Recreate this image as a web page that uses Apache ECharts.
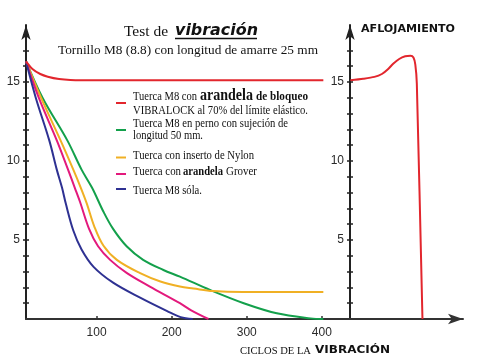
<!DOCTYPE html>
<html><head><meta charset="utf-8">
<script src="https://cdn.jsdelivr.net/npm/echarts@6/dist/echarts.min.js"></script>
<style>html,body{margin:0;padding:0;background:#fff}#c{width:481px;height:361px}</style>
</head><body><div id="c"></div>
<script>
// ---- data ----
const cycleTicks = [100, 200, 300, 400];
const loadLabels = [5, 10, 15];
const loadTicks = [1, 2, 3, 4, 5, 6, 7, 8, 9, 10, 11, 12, 13, 14, 15, 16, 17, 18];
const vibralock = [[6,16.3],[15,15.8],[25,15.5],[35,15.33],[50,15.18],[65,15.12],[100,15.1],[402,15.1]];
const perno50 = [[6,16.3],[28,14.0],[61,11.3],[80,9.45],[94,8.3],[109,6.8],[122,5.7],[140,4.6],[162,3.74],[189,3.1],[211,2.68],[251,1.84],[296,1.0],[340,0.36],[385,0.04],[402,0]];
const nylon = [[6,16.3],[26,14.0],[52,11.3],[69,9.45],[79,8.3],[87,7.3],[97,5.85],[109,4.65],[127,3.74],[158,2.9],[185,2.37],[211,2.05],[229,1.93],[255,1.77],[295,1.71],[402,1.71]];
const grover = [[6,16.3],[23,14.0],[47,11.3],[62,9.45],[71,8.3],[78,7.4],[90,5.7],[102,4.6],[118,3.74],[140,2.92],[171,2.05],[211,1.0],[226,0.55],[249,0]];
const sola = [[6,16.3],[19,14.0],[37,11.3],[47,9.45],[54,8.3],[59,7.3],[69,5.6],[80,4.4],[96,3.3],[122,2.3],[158,1.35],[194,0.5],[212,0.12],[228,0]];
const aflojamiento = [[438,15.1],[455,15.2],[470,15.32],[480,15.5],[488,15.8],[495,16.15],[503,16.45],[511,16.62],[518,16.66],[522,16.55],[524.5,16.1],[526.5,14.9],[534,0]];

const colors = { red:'#e2262d', green:'#13a04b', yellow:'#f0b024', pink:'#e3197c', blue:'#2e3192' };

// ---- text helpers ----
const ctx = document.createElement('canvas').getContext('2d');
function measure(text, font){ ctx.font = font; return ctx.measureText(text).width; }
function fit(text, font, x, y, width, color){
  const s = width / measure(text, font);
  return { type:'text', x:x, y:y, scaleX:s, silent:true,
    style:{ text:text, font:font, fill:color||'#111', align:'left', verticalAlign:'middle' } };
}
const SERIF = '"Liberation Serif", "Times New Roman", serif';
const HEAVY = '"DejaVu Sans", sans-serif';
function mark(y, c){ return { type:'line', silent:true, shape:{x1:116,y1:y,x2:126,y2:y}, style:{stroke:c, lineWidth:2} }; }

const graphics = [
  fit('Test de', '15px ' + SERIF, 124, 32, 44),
  fit('vibración', 'italic bold 15px ' + HEAVY, 175, 31, 83),
  { type:'line', silent:true, shape:{x1:175,y1:38.5,x2:257,y2:38.5}, style:{stroke:'#111', lineWidth:1.6} },
  fit('Tornillo M8 (8.8) con longitud de amarre 25 mm', '13px ' + SERIF, 58, 51, 260),
  fit('AFLOJAMIENTO', 'bold 11px ' + HEAVY, 361, 29, 94),
  fit('CICLOS DE LA', '11px ' + SERIF, 240, 351, 71),
  fit('VIBRACIÓN', 'bold 11px ' + HEAVY, 315, 350.5, 75),
  // legend
  mark(103, colors.red), mark(130, colors.green), mark(157.5, colors.yellow), mark(174, colors.pink), mark(189, colors.blue),
  fit('Tuerca M8 con', '12px ' + SERIF, 133, 97, 64),
  fit('arandela', 'bold 16px ' + SERIF, 200, 95.5, 53),
  fit('de bloqueo', 'bold 12px ' + SERIF, 256, 97, 52),
  fit('VIBRALOCK al 70% del límite elástico.', '12px ' + SERIF, 133, 110.5, 175),
  fit('Tuerca M8 en perno con sujeción de', '12px ' + SERIF, 133, 124, 155),
  fit('longitud 50 mm.', '12px ' + SERIF, 133, 136, 70),
  fit('Tuerca con inserto de Nylon', '12px ' + SERIF, 133, 155.5, 121),
  fit('Tuerca con', '12px ' + SERIF, 133, 172, 48),
  fit('arandela', 'bold 12px ' + SERIF, 183, 172, 40),
  fit('Grover', '12px ' + SERIF, 226, 172, 31),
  fit('Tuerca M8 sóla.', '12px ' + SERIF, 133, 190.5, 69)
];

const axisColor = '#222';
const labelStyle = { color:'#2a2a2a', fontFamily:'"Liberation Sans", Arial, sans-serif', fontSize:12 };
function yAx(offset, inside, withLine){
  return { type:'value', min:0, max:18.6, position:'left', offset:offset,
    axisLine:{ show:withLine, onZero:false, symbol:['none','arrow'], symbolSize:[7,15], lineStyle:{color:axisColor, width:2} },
    axisTick:{ show:true, inside:inside, length:3, customValues:loadTicks, lineStyle:{color:axisColor, width:1.5} },
    axisLabel:{ show:withLine, customValues:loadLabels, margin:6, ...labelStyle },
    splitLine:{show:false} };
}
function line(name, data, color, sm){
  return { name:name, type:'line', data:data, showSymbol:false, symbol:'none', smooth:sm,
    lineStyle:{ width:2, color:color }, itemStyle:{color:color}, z:3 };
}

const chart = echarts.init(document.getElementById('c'), null, { renderer:'canvas' });
chart.setOption({
  animation:false,
  backgroundColor:'#fff',
  grid:{ left:26, top:25, right:18, bottom:42 },
  xAxis:{ type:'value', min:6, max:588,
    axisLine:{ onZero:true, symbol:['none','arrow'], symbolSize:[8,15], lineStyle:{color:'#333', width:2} },
    axisTick:{ inside:true, length:3, customValues:cycleTicks, lineStyle:{color:'#333', width:1.5} },
    axisLabel:{ customValues:cycleTicks, margin:8, ...labelStyle },
    splitLine:{show:false} },
  yAxis:[ yAx(0, false, true), yAx(-324, false, true), yAx(0, true, false), yAx(-324, true, false) ],
  series:[
    line('Tuerca M8 en perno con sujeción de longitud 50 mm.', perno50, colors.green, 0.35),
    line('Tuerca con inserto de Nylon', nylon, colors.yellow, 0.35),
    line('Tuerca con arandela Grover', grover, colors.pink, 0.35),
    line('Tuerca M8 sóla.', sola, colors.blue, 0.35),
    line('Tuerca M8 con arandela de bloqueo VIBRALOCK', vibralock, colors.red, 0.35),
    line('Aflojamiento', aflojamiento, colors.red, 0.25)
  ],
  graphic: graphics
});
</script>
</body></html>
